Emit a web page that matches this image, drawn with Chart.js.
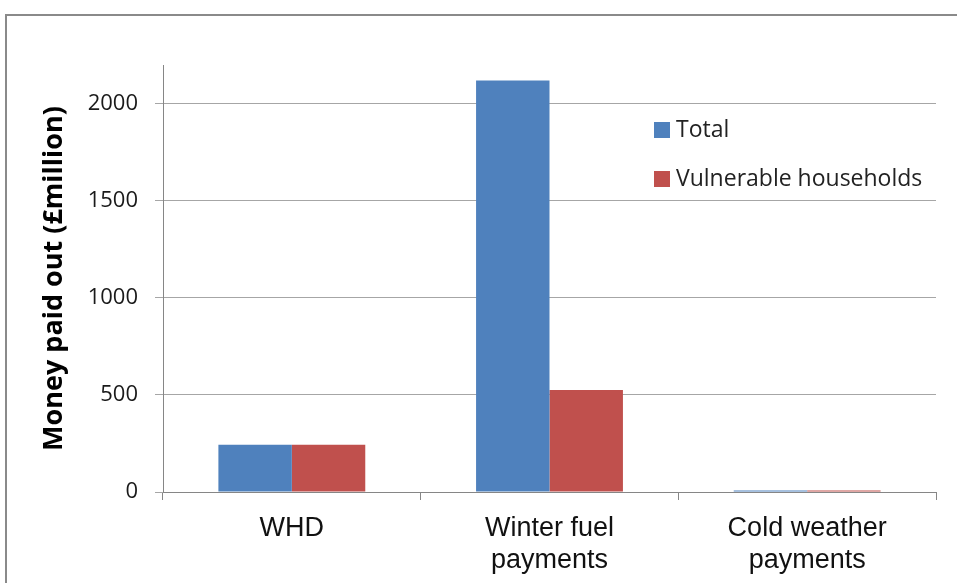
<!DOCTYPE html>
<html>
<head>
<meta charset="utf-8">
<script src="https://cdn.jsdelivr.net/npm/chart.js@4/dist/chart.umd.min.js"></script>
<style>
  html, body { margin: 0; padding: 0; background: #fff; }
  canvas { display: block; }
</style>
</head>
<body>
<canvas id="paymentsChart" width="957" height="583"></canvas>
<script>
const categories = ['WHD', ['Winter fuel', 'payments'], ['Cold weather', 'payments']];
const seriesNames = ['Total', 'Vulnerable households'];
const totalPaid = [243, 2120, 8];
const vulnerablePaid = [243, 526, 8];
const yTicks = [0, 500, 1000, 1500, 2000];

const BLUE = '#4f81bd';
const RED = '#c0504d';
const AXIS = '#868686';
const GRID = '#a6a6a6';

// thin grey frame along the top and left edge
const framePlugin = {
    id: 'frame',
    beforeDraw(chart) {
        const c = chart.ctx;
        c.save();
        c.strokeStyle = '#8a8a8a';
        c.lineWidth = 2;
        c.beginPath();
        c.moveTo(6, chart.height);
        c.lineTo(6, 15);
        c.lineTo(chart.width, 15);
        c.stroke();
        c.restore();
    }
};

// legend drawn inside the plot, top right
const boxLegend = {
    id: 'boxLegend',
    afterDraw(chart) {
        const c = chart.ctx;
        c.save();
        c.font = '23px "Open Sans"';
        c.textBaseline = 'middle';
        chart.data.datasets.forEach((ds, i) => {
            const y = 130 + i * 49;
            c.fillStyle = ds.backgroundColor;
            c.fillRect(654, y - 8, 16, 16);
            c.fillStyle = '#222';
            c.fillText(ds.label, 676, y);
        });
        c.restore();
    }
};

const ctx = document.getElementById('paymentsChart').getContext('2d');

new Chart(ctx, {
    type: 'bar',
    data: {
        labels: categories,
        datasets: [{
            label: seriesNames[0],
            data: totalPaid,
            backgroundColor: BLUE
        }, {
            label: seriesNames[1],
            data: vulnerablePaid,
            backgroundColor: RED
        }]
    },
    options: {
        responsive: false,
        animation: false,
        layout: { padding: { top: 65, right: 21, left: 0, bottom: 0 } },
        datasets: {
            bar: { barPercentage: 1, categoryPercentage: 0.57 }
        },
        plugins: {
            legend: { display: false },
            tooltip: { enabled: false }
        },
        scales: {
            x: {
                grid: {
                    offset: true,
                    drawOnChartArea: false,
                    drawTicks: true,
                    tickLength: 8,
                    color: AXIS
                },
                border: { color: AXIS, width: 1 },
                ticks: {
                    color: '#111',
                    padding: 12,
                    maxRotation: 0,
                    font: { family: '"Liberation Sans", Arial, sans-serif', size: 27, lineHeight: 1.2 }
                },
                afterFit(scale) { scale.height = 91; }
            },
            y: {
                min: 0,
                max: 2200,
                afterBuildTicks(scale) {
                    scale.ticks = yTicks.map(v => ({ value: v }));
                },
                grid: {
                    color: GRID,
                    tickLength: 8,
                    drawTicks: true
                },
                border: { color: AXIS, width: 1 },
                ticks: {
                    color: '#1a1a1a',
                    padding: 17,
                    callback: v => String(v),
                    font: { family: '"Open Sans", sans-serif', size: 22 }
                },
                title: {
                    display: true,
                    text: 'Money paid out (£million)',
                    color: '#000',
                    padding: { top: 38, bottom: 0 },
                    font: { family: '"Open Sans", sans-serif', size: 27, weight: 'bold' }
                },
                afterFit(scale) { scale.width = 163; }
            }
        }
    },
    plugins: [framePlugin, boxLegend]
});
</script>
</body>
</html>
